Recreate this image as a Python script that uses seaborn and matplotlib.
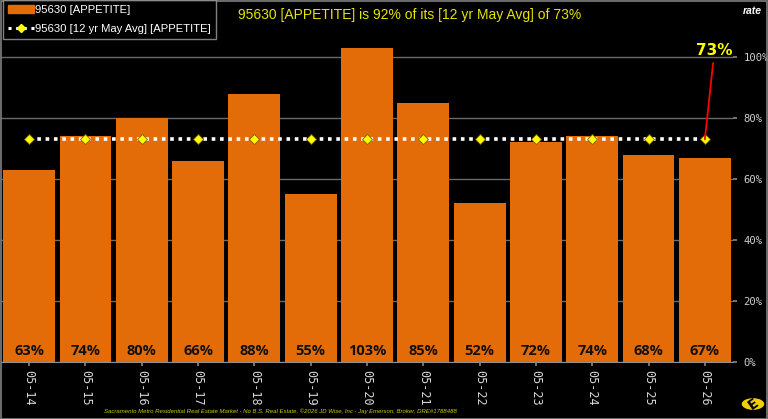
import matplotlib
matplotlib.use("Agg")
import matplotlib.pyplot as plt
import seaborn as sns
import pandas as pd
from matplotlib.lines import Line2D
from matplotlib.patches import Patch, Circle

categories = ["05-14", "05-15", "05-16", "05-17", "05-18", "05-19", "05-20",
              "05-21", "05-22", "05-23", "05-24", "05-25", "05-26"]
appetite = [63, 74, 80, 66, 88, 55, 103, 85, 52, 72, 74, 68, 67]
avg_value = 73
avg_series = [avg_value] * len(categories)
yticks = [0, 20, 40, 60, 80, 100]

sns.set_theme(style="dark")
plt.rcParams['font.family'] = ['DejaVu Sans']

ORANGE = "#E36C09"
YELLOW = "#FFFF00"

fig = plt.figure(figsize=(7.68, 4.19), dpi=100, facecolor="black")
ax = fig.add_axes([1/768, 57/419, 732/768, 360/419])
ax.set_facecolor("black")

df = pd.DataFrame({"cat": categories, "val": appetite})
sns.barplot(data=df, x="cat", y="val", color=ORANGE, saturation=1, width=0.92,
            ax=ax, zorder=2, edgecolor=ORANGE, linewidth=0)

for i, v in enumerate(appetite):
    ax.text(i, 1.3, f"{v}%", ha="center", va="bottom", fontsize=10.5,
            fontweight="bold", color="#111111", zorder=4, family="Open Sans")

ax.plot(range(len(categories)), avg_series, color="white", lw=2.6,
        linestyle=(0, (1, 1.3)), zorder=3)
ax.plot(range(len(categories)), avg_series, linestyle="none", marker="D",
        markersize=5.5, markerfacecolor=YELLOW, markeredgecolor="#806000",
        markeredgewidth=0.6, zorder=5)

n = len(categories)
ax.annotate(f"{avg_value}%", xy=(n - 1, avg_value), xytext=(n - 1 + 0.17, 99.5),
            ha="center", va="bottom", fontsize=11, fontweight="bold",
            color=YELLOW, zorder=6,
            arrowprops=dict(arrowstyle="-", color="red", lw=1.3,
                            shrinkA=1, shrinkB=0))

ax.set_xlim(-0.5, n - 0.5)
ax.set_ylim(0, 118)
ax.yaxis.tick_right()
ax.set_yticks(yticks)
ax.set_yticklabels([f"{t}%" for t in yticks], family="DejaVu Sans Mono",
                   fontsize=7.6, color="#D0D0D0")
ax.tick_params(axis="y", length=3, color="#808080", pad=4.5, right=True)
ax.tick_params(axis="x", length=3, color="#808080", bottom=True, pad=3)
ax.set_xticks(range(n))
ax.set_xticklabels(categories, rotation=270, family="DejaVu Sans Mono",
                   fontsize=8.5, color="#D8D8D8")
ax.set_xlabel("")
ax.set_ylabel("")
ax.grid(axis="y", color="#6A6A6A", lw=1, zorder=0)
ax.grid(axis="x", visible=False)
ax.set_axisbelow(True)
for s in ["top", "left", "right"]:
    ax.spines[s].set_visible(False)
ax.spines["bottom"].set_color("#909090")
ax.spines["bottom"].set_linewidth(0.8)

handles = [Patch(facecolor=ORANGE, edgecolor=ORANGE),
           Line2D([0], [0], color="white", lw=2.2, linestyle=(0, (1, 1.5)),
                  marker="D", markersize=4, markerfacecolor=YELLOW,
                  markeredgecolor=YELLOW)]
labels = ["95630 [APPETITE]", "95630 [12 yr May Avg] [APPETITE]"]
leg = fig.legend(handles, labels, loc="upper left", bbox_to_anchor=(3/768, 1.0),
                 frameon=True, facecolor="black", edgecolor="#A0A0A0",
                 labelcolor="white", handlelength=2.3,
                 handletextpad=0.1, borderpad=0.45, labelspacing=0.75,
                 fancybox=False, borderaxespad=0,
                 prop={"family": "Liberation Sans", "size": 8.1})
leg.get_frame().set_linewidth(1)

fig.text(410/768, 1 - 15/419, "95630 [APPETITE] is 92% of its [12 yr May Avg] of 73%",
         ha="center", va="center", fontsize=10, color="#E5E500",
         family="Liberation Sans")
fig.text(752/768, 1 - 11/419, "rate", ha="center", va="center", fontsize=7.5,
         color="white", fontweight="bold", style="italic", family="Liberation Sans")
fig.text(280/768, 1 - 411/419,
         "Sacramento Metro Residential Real Estate Market - No B.S. Real Estate, \u00a92026 JD Wise, Inc - Jay Emerson, Broker, DRE#1788488",
         ha="center", va="center", fontsize=4.3, color="#CCCC00", style="italic",
         family="Liberation Sans")

logo = Circle((753/768, 1 - 404/419), 12/768, transform=fig.transFigure,
              facecolor="#F0D000", edgecolor="black", lw=1)
fig.patches.append(logo)
fig.text(753/768, 1 - 404/419, "E", ha="center", va="center", fontsize=10,
         fontweight="bold", color="black", rotation=35)

border = plt.Rectangle((0.5/768, 0.5/419), 766/768, 417/419, transform=fig.transFigure,
                       fill=False, edgecolor="#808080", lw=1.2)
fig.patches.append(border)

fig.savefig("out.png", dpi=100, facecolor="black")
